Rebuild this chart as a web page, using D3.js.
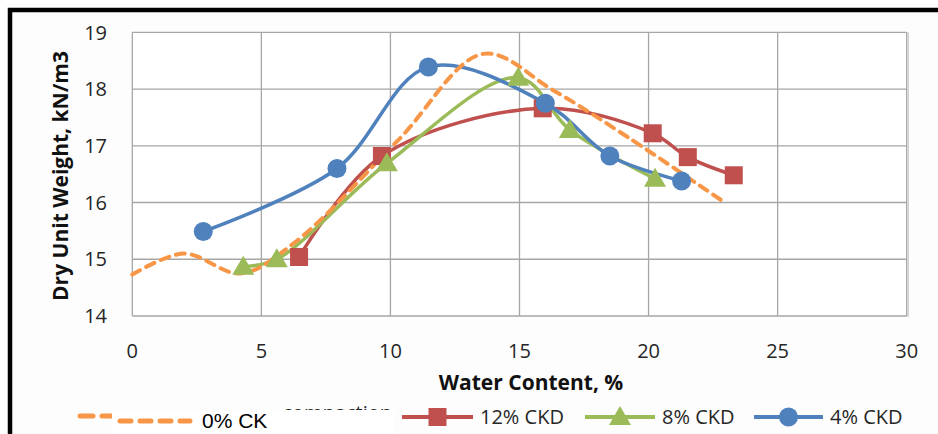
<!DOCTYPE html>
<html>
<head>
<meta charset="utf-8">
<script src="https://cdnjs.cloudflare.com/ajax/libs/d3/7.8.5/d3.min.js"></script>
<style>
  body { margin: 0; background: #fff; }
  svg { display: block; }
  .tick-label { font-family: "Open Sans", sans-serif; font-size: 20px; fill: #262626; }
  .axis-title { font-family: "Open Sans", sans-serif; font-weight: bold; font-size: 21px; fill: #111; }
  .legend-text { font-family: "Open Sans", sans-serif; font-size: 20px; fill: #262626; }
</style>
</head>
<body>
<div id="chart"></div>
<script>
// ticks
var xTicks = [0, 5, 10, 15, 20, 25, 30];
var yTicks = [14, 15, 16, 17, 18, 19];

// 0% CK (dashed, no markers)
var ck0 = [[0, 14.73], [2, 15.1], [4.2, 14.75], [6.3, 15.3], [10.3, 17.1], [13.6, 18.62], [16.3, 17.98], [19.2, 17.15], [22.85, 16.03]];
// 12% CKD
var ckd12 = [[6.46, 15.04], [9.67, 16.82], [15.9, 17.66], [20.16, 17.22], [21.52, 16.8], [23.3, 16.48]];
// 8% CKD
var ckd8 = [[4.3, 14.87], [5.6, 15.0], [9.86, 16.69], [14.95, 18.2], [16.95, 17.28], [20.25, 16.42]];
// 4% CKD
var ckd4 = [[2.75, 15.49], [7.93, 16.6], [11.47, 18.39], [16.0, 17.75], [18.5, 16.82], [21.28, 16.38]];

var legendNames = ["0% CK", "12% CKD", "8% CKD", "4% CKD"];

var svg = d3.select("#chart").append("svg")
    .attr("width", 938)
    .attr("height", 434);

// outer frame (black, clipped on right/bottom)
svg.append("rect")
    .attr("x", 10).attr("y", 10)
    .attr("width", 960).attr("height", 460)
    .attr("fill", "#fdfdfd")
    .attr("stroke", "#000").attr("stroke-width", 4.5);

var x = d3.scaleLinear().domain([0, 30]).range([132.3, 906.7]);
var y = d3.scaleLinear().domain([14, 19]).range([316, 32.3]);

var g = svg.append("g");

g.append("rect")
    .attr("x", x(0)).attr("y", y(19))
    .attr("width", x(30) - x(0)).attr("height", y(14) - y(19))
    .attr("fill", "#fff");

// grid
g.selectAll(".hgrid").data(yTicks).enter().append("line")
    .attr("x1", x(0)).attr("x2", x(30))
    .attr("y1", function(d) { return y(d); }).attr("y2", function(d) { return y(d); })
    .attr("stroke", "#a6a6a6").attr("stroke-width", 1.3);
g.selectAll(".vgrid").data(xTicks).enter().append("line")
    .attr("y1", y(14)).attr("y2", y(19))
    .attr("x1", function(d) { return x(d); }).attr("x2", function(d) { return x(d); })
    .attr("stroke", "#a6a6a6").attr("stroke-width", 1.3);
g.append("line")
    .attr("x1", x(30) + 1.5).attr("x2", x(30) + 1.5)
    .attr("y1", y(19)).attr("y2", y(14) + 1)
    .attr("stroke", "#d0d0d0").attr("stroke-width", 1.5);

// tick labels
g.selectAll(".ylab").data(yTicks).enter().append("text")
    .attr("class", "tick-label")
    .attr("x", 107).attr("y", function(d) { return y(d); })
    .attr("dy", "0.36em")
    .attr("text-anchor", "end")
    .text(function(d) { return d; });
g.selectAll(".xlab").data(xTicks).enter().append("text")
    .attr("class", "tick-label")
    .attr("x", function(d) { return x(d); }).attr("y", 358)
    .attr("text-anchor", "middle")
    .text(function(d) { return d; });

// axis titles
svg.append("text").attr("class", "axis-title")
    .attr("x", 531).attr("y", 390)
    .attr("text-anchor", "middle")
    .text("Water Content, %");
svg.append("text").attr("class", "axis-title")
    .attr("transform", "translate(68,176) rotate(-90)")
    .attr("text-anchor", "middle")
    .text("Dry Unit Weight, kN/m3");

var line = d3.line()
    .x(function(d) { return x(d[0]); })
    .y(function(d) { return y(d[1]); })
    .curve(d3.curveCatmullRom.alpha(0.5));

var colors = { ck0: "#f79646", ckd12: "#c0504d", ckd8: "#9bbb59", ckd4: "#4f81bd" };

g.append("path").datum(ckd12).attr("d", line)
    .attr("fill", "none").attr("stroke", colors.ckd12).attr("stroke-width", 3.5);
g.append("path").datum(ckd8).attr("d", line)
    .attr("fill", "none").attr("stroke", colors.ckd8).attr("stroke-width", 3.5);
g.append("path").datum(ckd4).attr("d", line)
    .attr("fill", "none").attr("stroke", colors.ckd4).attr("stroke-width", 3.5);
g.append("path").datum(ck0).attr("d", line)
    .attr("fill", "none").attr("stroke", colors.ck0).attr("stroke-width", 4)
    .attr("stroke-dasharray", "9,7").attr("stroke-linecap", "round");

// markers
function square(sel, cx, cy, c) {
  sel.append("rect").attr("x", cx - 9).attr("y", cy - 9)
    .attr("width", 18).attr("height", 18).attr("fill", c);
}
function tri(sel, cx, cy, c) {
  sel.append("path")
    .attr("d", "M" + cx + "," + (cy - 11) + "L" + (cx + 11) + "," + (cy + 8) + "L" + (cx - 11) + "," + (cy + 8) + "Z")
    .attr("fill", c);
}
function circ(sel, cx, cy, c) {
  sel.append("circle").attr("cx", cx).attr("cy", cy).attr("r", 9.5).attr("fill", c);
}

ckd12.forEach(function(d) { square(g, x(d[0]), y(d[1]), colors.ckd12); });
ckd8.forEach(function(d) { tri(g, x(d[0]), y(d[1]), colors.ckd8); });
ckd4.forEach(function(d) { circ(g, x(d[0]), y(d[1]), colors.ckd4); });

// legend (old entry partly covered by a pasted label)
var lg = svg.append("g");
lg.append("line").attr("x1", 80).attr("x2", 150).attr("y1", 416).attr("y2", 416)
    .attr("stroke", colors.ck0).attr("stroke-width", 5)
    .attr("stroke-dasharray", "13,9").attr("stroke-linecap", "round");
lg.append("text").attr("class", "legend-text")
    .attr("x", 392).attr("y", 420).attr("text-anchor", "end")
    .attr("fill", "#555")
    .text("compaction");
lg.append("rect").attr("x", 112).attr("y", 410).attr("width", 282).attr("height", 30)
    .attr("fill", "#fff");
lg.append("line").attr("x1", 120).attr("x2", 190).attr("y1", 421).attr("y2", 421)
    .attr("stroke", colors.ck0).attr("stroke-width", 5)
    .attr("stroke-dasharray", "11,9").attr("stroke-linecap", "round");
lg.append("text")
    .attr("x", 202).attr("y", 428)
    .attr("font-family", "Liberation Sans, Arial, sans-serif").attr("font-size", 21)
    .attr("fill", "#000")
    .text(legendNames[0]);

var legendItems = [
  { name: legendNames[1], c: colors.ckd12, x0: 402, x1: 473, tx: 480, m: square },
  { name: legendNames[2], c: colors.ckd8, x0: 585, x1: 655, tx: 662, m: tri },
  { name: legendNames[3], c: colors.ckd4, x0: 754, x1: 823, tx: 830, m: circ }
];
legendItems.forEach(function(it) {
  lg.append("line").attr("x1", it.x0).attr("x2", it.x1).attr("y1", 417).attr("y2", 417)
    .attr("stroke", it.c).attr("stroke-width", 4);
  it.m(lg, (it.x0 + it.x1) / 2, 417, it.c);
  lg.append("text").attr("class", "legend-text")
    .attr("x", it.tx).attr("y", 424)
    .text(it.name);
});
</script>
</body>
</html>
